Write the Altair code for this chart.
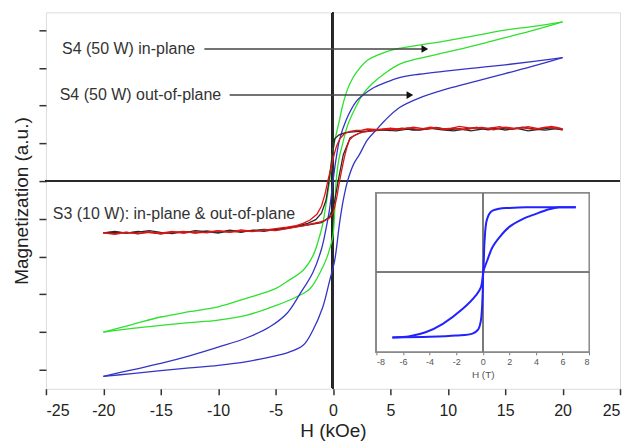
import altair as alt
import pandas as pd

# ---------------- main chart data (H in kOe, M in a.u.) ----------------
GREEN_DOWN_H = [20, 17.5, 15, 12.5, 10, 7.5, 5.5, 4, 3, 2, 1.5, 1.15, 0.8, 0.57, 0.25, 0.0,
                -0.3, -0.6, -0.9, -1.3, -1.75, -2.6, -4.0, -5.0, -7.5, -10, -12.5, -15, -17.5, -20]
GREEN_DOWN_M = [4.22, 4.1, 4.0, 3.86, 3.72, 3.6, 3.5, 3.35, 3.2, 2.86, 2.6, 2.33, 1.95, 1.62, 1.2, 0.82,
                0.0, -0.6, -1.15, -1.6, -1.98, -2.36, -2.66, -2.85, -3.1, -3.33, -3.46, -3.6, -3.8, -4.0]
GREEN_UP_H = [-20, -17.5, -15, -12.5, -10, -7.5, -5, -3.2, -2.0, -1.0, -0.5, -0.2, 0.0, 0.15, 0.28,
              0.5, 0.85, 1.3, 2.0, 2.6, 3.46, 4.5, 5.8, 7.5, 10, 12.5, 15, 17.5, 20]
GREEN_UP_M = [-4.0, -3.9, -3.82, -3.75, -3.68, -3.55, -3.3, -3.07, -2.85, -2.35, -2.0, -1.7, -1.45, -0.8, 0.0,
              0.55, 1.0, 1.5, 1.97, 2.3, 2.59, 2.85, 3.1, 3.25, 3.42, 3.6, 3.8, 4.0, 4.22]

BLUE_DOWN_H = [20, 17.5, 15, 12.5, 10, 7.5, 5.8, 4.5, 3.46, 2.5, 2.0, 1.15, 0.57, 0.25, 0.0,
               -0.3, -0.6, -1.0, -1.75, -2.9, -4.0, -5.5, -7.5, -10, -12.5, -15, -17.5, -20]
BLUE_DOWN_M = [3.27, 3.17, 3.08, 3.0, 2.92, 2.83, 2.74, 2.6, 2.46, 2.25, 2.1, 1.62, 1.09, 0.55, 0.0,
               -0.75, -1.25, -1.8, -2.42, -3.0, -3.5, -3.86, -4.15, -4.4, -4.63, -4.83, -5.0, -5.17]
BLUE_UP_H = [-20, -17.5, -15, -12.5, -10, -7.5, -5.5, -4.0, -2.6, -1.75, -0.9, -0.3, 0.15, 0.57,
             0.9, 1.27, 1.8, 2.3, 3.0, 3.75, 4.5, 5.8, 7.5, 10, 12.5, 15, 17.5, 20]
BLUE_UP_M = [-5.17, -5.1, -5.02, -4.95, -4.88, -4.78, -4.66, -4.55, -4.35, -3.95, -3.35, -2.65, -2.1, -1.12,
             -0.5, 0.0, 0.45, 0.7, 1.09, 1.35, 1.6, 1.95, 2.2, 2.45, 2.65, 2.85, 3.05, 3.27]

RED_DOWN_H = [20, 19.5, 19, 18, 17, 16, 15, 14, 13, 12, 11, 10, 9, 8, 7, 6, 5, 4, 3, 2.5, 2, 1.5, 1.0,
              0.6, 0.3, 0.1, -0.15, -0.45, -0.7, -1.0, -1.4, -2.0, -2.6, -3.2, -4.0, -5, -6, -7, -8, -9,
              -10, -11, -12, -13, -14, -15, -16, -17, -18, -19, -20]
RED_DOWN_M = [1.38, 1.42, 1.45, 1.38, 1.44, 1.39, 1.43, 1.36, 1.42, 1.40, 1.45, 1.37, 1.41, 1.38, 1.43, 1.37,
              1.40, 1.36, 1.38, 1.35, 1.34, 1.32, 1.26, 1.12, 0.92, 0.7, 0.38, 0.0, -0.35, -0.66, -0.88,
              -1.03, -1.12, -1.18, -1.22, -1.26, -1.30, -1.33, -1.29, -1.35, -1.32, -1.37, -1.34, -1.38,
              -1.33, -1.38, -1.36, -1.40, -1.35, -1.39, -1.37]
RED_UP_H = [-20, -19, -18, -17, -16, -15, -14, -13, -12, -11, -10, -9, -8, -7, -6, -5, -4, -3.5, -2.5,
            -1.8, -1.2, -0.7, -0.3, 0.0, 0.15, 0.35, 0.57, 0.8, 1.0, 1.2, 1.43, 1.8, 2.2, 2.6, 3.2, 3.75,
            4.5, 5.5, 6.5, 7.5, 8.5, 9.5, 10.5, 11.5, 12.5, 13.5, 14.5, 15.5, 16.5, 17.5, 18.5, 19.5, 20]
RED_UP_M = [-1.37, -1.41, -1.36, -1.39, -1.34, -1.40, -1.36, -1.33, -1.38, -1.35, -1.31, -1.36, -1.32,
            -1.34, -1.29, -1.31, -1.26, -1.23, -1.18, -1.13, -1.09, -1.05, -0.98, -0.85, -0.68, -0.4,
            0.0, 0.35, 0.64, 0.88, 1.09, 1.2, 1.26, 1.3, 1.33, 1.35, 1.38, 1.36, 1.41, 1.37, 1.43, 1.38,
            1.40, 1.36, 1.42, 1.39, 1.44, 1.38, 1.41, 1.37, 1.43, 1.40, 1.38]

BLACK_DOWN_H = [20, 19, 18, 17, 16, 15, 14, 13, 12, 11, 10, 9, 8, 7, 6, 5, 4, 3, 2, 1.5, 1.0, 0.5,
                0.15, -0.1, -0.35, -0.6, -1.0, -1.5, -2.2, -3.0, -4.0, -5, -6, -7, -8, -9, -10, -11,
                -12, -13, -14, -15, -16, -17, -18, -19, -20]
BLACK_DOWN_M = [1.36, 1.41, 1.37, 1.33, 1.40, 1.35, 1.41, 1.38, 1.33, 1.39, 1.36, 1.42, 1.37, 1.35,
                1.40, 1.34, 1.37, 1.33, 1.31, 1.30, 1.28, 1.22, 1.12, 0.6, 0.0, -0.5, -0.85, -1.02,
                -1.12, -1.18, -1.24, -1.28, -1.33, -1.30, -1.36, -1.32, -1.38, -1.34, -1.31, -1.37,
                -1.35, -1.40, -1.36, -1.33, -1.38, -1.35, -1.37]
BLACK_UP_H = [-20, -19, -18, -17, -16, -15, -14, -13, -12, -11, -10, -9, -8, -7, -6, -5, -4, -3, -2,
              -1.0, -0.3, 0.1, 0.45, 0.9, 1.5, 2.5, 3.5, 4.5, 5.5, 6.5, 7.5, 8.5, 9.5, 10.5, 11.5,
              12.5, 13.5, 14.5, 15.5, 16.5, 17.5, 18.5, 19.5, 20]
BLACK_UP_M = [-1.37, -1.33, -1.38, -1.35, -1.31, -1.36, -1.39, -1.34, -1.37, -1.32, -1.36, -1.30,
              -1.34, -1.31, -1.28, -1.30, -1.25, -1.20, -1.15, -1.10, -0.95, -0.6, 0.0, 0.7, 1.15,
              1.3, 1.33, 1.36, 1.33, 1.38, 1.35, 1.40, 1.36, 1.33, 1.38, 1.42, 1.36, 1.40, 1.37,
              1.43, 1.38, 1.35, 1.39, 1.36]

SMOOTH_SERIES = ["green", "blue"]
NOISY_SERIES = ["black", "red"]
SERIES = ["black", "red", "green", "blue"]
SERIES_COLORS = ["#2a2a2a", "#e01414", "#2fe02f", "#3434c4"]

# ---------------- annotations ----------------
LABEL_TEXT = ["S4 (50 W) in-plane", "S4 (50 W) out-of-plane", "S3 (10 W): in-plane & out-of-plane"]
LABEL_H = [-23.6, -23.8, -24.4]
LABEL_M = [3.5, 2.28, -0.87]
ARROW_START_H = [-11.2, -9.0]
ARROW_END_H = [8.0, 6.7]
ARROW_M = [3.5, 2.28]

# ---------------- inset data (H in T) ----------------
INSET_DOWN_H = [7.0, 5.0, 3.25, 2.0, 1.24, 0.6, 0.3, 0.14, 0.04, -0.14, -0.5, -1.5, -3.0, -4.3, -5.5, -6.8]
INSET_DOWN_M = [1.0, 1.0, 1.0, 0.99, 0.98, 0.93, 0.8, 0.49, 0.03, -0.23, -0.35, -0.56, -0.79, -0.92, -0.98, -1.0]
INSET_UP_H = [-6.8, -4.0, -2.0, -0.77, -0.35, -0.14, 0.0, 0.04, 0.1, 0.37, 0.74, 1.3, 2.0, 3.0, 4.0, 5.0, 5.75, 7.0]
INSET_UP_M = [-1.0, -0.99, -0.97, -0.94, -0.88, -0.74, -0.3, 0.0, 0.05, 0.2, 0.39, 0.55, 0.7, 0.82, 0.9, 0.97, 1.0, 1.0]


def branch(series, part, hs, ms):
    assert len(hs) == len(ms), (series, part)
    return pd.DataFrame({"series": series, "branch": series + part,
                         "i": list(range(len(hs))), "H": hs, "M": ms})


smooth_df = pd.concat([
    branch("green", "down", GREEN_DOWN_H, GREEN_DOWN_M),
    branch("green", "up", GREEN_UP_H, GREEN_UP_M),
    branch("blue", "down", BLUE_DOWN_H, BLUE_DOWN_M),
    branch("blue", "up", BLUE_UP_H, BLUE_UP_M),
], ignore_index=True)

noisy_df = pd.concat([
    branch("black", "down", BLACK_DOWN_H, BLACK_DOWN_M),
    branch("black", "up", BLACK_UP_H, BLACK_UP_M),
    branch("red", "down", RED_DOWN_H, RED_DOWN_M),
    branch("red", "up", RED_UP_H, RED_UP_M),
], ignore_index=True)

inset_df = pd.concat([
    branch("inset", "down", INSET_DOWN_H, INSET_DOWN_M),
    branch("inset", "up", INSET_UP_H, INSET_UP_M),
], ignore_index=True)

labels_df = pd.DataFrame({"text": LABEL_TEXT, "H": LABEL_H, "M": LABEL_M})
arrows_df = pd.DataFrame({"H": ARROW_START_H, "H2": ARROW_END_H, "M": ARROW_M})

FONT = "Liberation Sans"
HYPHEN = "replace(format(datum.value, 'd'), '\u2212', '-')"
xs = alt.Scale(domain=[-25, 25], nice=False, zero=False)
ys = alt.Scale(domain=[-5.5, 4.47], nice=False, zero=False)
x_axis = alt.Axis(values=list(range(-25, 26, 5)), title="H (kOe)", grid=False, domain=False,
                  tickSize=6, tickColor="#333", tickWidth=1.5, labelFontSize=16, labelColor="#222",
                  labelPadding=8, labelExpr=HYPHEN,
                  titleFontSize=19, titleFontWeight="normal", titleColor="#222",
                  titlePadding=3, labelFont=FONT, titleFont=FONT)
y_axis = alt.Axis(values=list(range(-5, 5)), labels=False, title="Magnetization (a.u.)", grid=False,
                  domain=False, tickSize=7, tickColor="#333", tickWidth=1.5, titleFontSize=19,
                  titleFontWeight="normal", titleColor="#222", titlePadding=7, titleFont=FONT)

X = alt.X("H:Q", scale=xs, axis=x_axis)
Y = alt.Y("M:Q", scale=ys, axis=y_axis)
C = alt.Color("series:N", scale=alt.Scale(domain=SERIES, range=SERIES_COLORS), legend=None)

noisy = alt.Chart(noisy_df).mark_line(strokeWidth=1.3).encode(
    x=X, y=Y, color=C, detail="branch:N", order="i:Q")
smooth = alt.Chart(smooth_df).mark_line(strokeWidth=1.3, interpolate="catmull-rom").encode(
    x=X, y=Y, color=C, detail="branch:N", order="i:Q")

vline = alt.Chart(noisy_df).mark_rule(color="#2a2a2a", strokeWidth=2).encode(
    x=alt.X(datum=0, scale=xs, axis=x_axis))
hline = alt.Chart(noisy_df).mark_rule(color="#2a2a2a", strokeWidth=2).encode(
    y=alt.Y(datum=0, scale=ys, axis=y_axis))

arrows = alt.Chart(arrows_df).mark_rule(color="#444", strokeWidth=1.5).encode(
    x=X, x2="H2:Q", y=Y)
heads = alt.Chart(arrows_df).mark_point(shape="triangle-right", filled=True, size=60,
                                         color="#111", opacity=1).encode(
    x=alt.X("H2:Q", scale=xs, axis=x_axis), y=Y)
texts = alt.Chart(labels_df).mark_text(align="left", baseline="middle", fontSize=16, font=FONT,
                                        color="#333").encode(x=X, y=Y, text="text:N")

main = alt.layer(hline, vline, smooth, noisy, arrows, heads, texts)

# ---------------- inset ----------------
ixs = alt.Scale(domain=[-8, 8], range=[331, 544], nice=False, zero=False)
iys = alt.Scale(domain=[-1.22, 1.22], range=[340, 181], nice=False, zero=False)
i_axis = alt.Axis(values=list(range(-8, 9, 2)), title="H (T)", orient="bottom", offset=-37, grid=False,
                  domain=False, tickSize=3, tickColor="#777", labelFontSize=9, labelColor="#555",
                  labelPadding=3, labelExpr=HYPHEN, titleFontSize=10, titleFontWeight="normal",
                  titleColor="#555", titlePadding=3, labelFont=FONT, titleFont=FONT)
IX = alt.X("H:Q", scale=ixs, axis=i_axis)
IY = alt.Y("M:Q", scale=iys, axis=None)

frame = alt.Chart(inset_df).mark_rect(fill="white", stroke="#8a8a8a", strokeWidth=1.2).encode(
    x=alt.X(datum=-8, scale=ixs, axis=i_axis), x2=alt.X2(datum=8),
    y=alt.Y(datum=-1.22, scale=iys, axis=None), y2=alt.Y2(datum=1.22))
ivline = alt.Chart(inset_df).mark_rule(color="#7a7a7a", strokeWidth=1).encode(
    x=alt.X(datum=0, scale=ixs, axis=i_axis),
    y=alt.Y(datum=-1.22, scale=iys, axis=None), y2=alt.Y2(datum=1.22))
ihline = alt.Chart(inset_df).mark_rule(color="#7a7a7a", strokeWidth=1).encode(
    x=alt.X(datum=-8, scale=ixs, axis=i_axis), x2=alt.X2(datum=8),
    y=alt.Y(datum=0, scale=iys, axis=None))
iline = alt.Chart(inset_df).mark_line(strokeWidth=2, color="#2222ff", interpolate="catmull-rom").encode(
    x=IX, y=IY, detail="branch:N", order="i:Q")

inset = alt.layer(frame, ivline, ihline, iline)

chart = alt.layer(main, inset).resolve_scale(x="independent", y="independent").properties(
    width=575, height=377,
    autosize=alt.AutoSizeParams(type="none"),
    padding={"left": 38, "top": 4, "right": 2, "bottom": 52},
).configure_view(stroke="#2a2a2a", strokeWidth=2).configure(font=FONT, background="white")

chart.save("out.html", embed_options={"renderer": "svg", "actions": False})
